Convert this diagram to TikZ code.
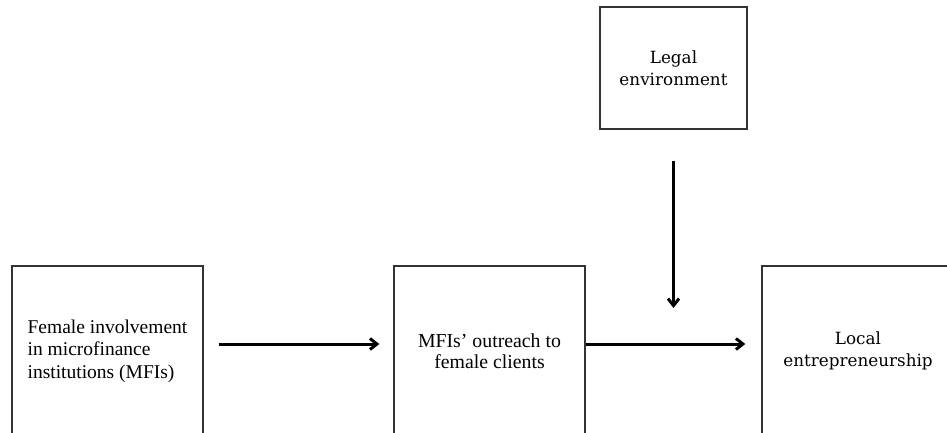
\documentclass[tikz,border=0pt]{standalone}
\usepackage{fontspec}
\setmainfont{Liberation Serif}
\newfontfamily\altserif{DejaVu Serif}
\usetikzlibrary{arrows.meta, positioning}

\begin{document}
\begin{tikzpicture}[x=1pt, y=-1pt, >={Straight Barb[length=7pt,width=11pt]},
    box/.style={draw=black!80, line width=1.3pt, fill=white, minimum width=191pt, minimum height=170pt, align=center, inner sep=0pt},
    flow/.style={->, line width=3pt}]
    \clip (0,0) rectangle (947,432);
    \fill[white] (0,0) rectangle (947,432);

    % Model boxes
    \node[box, align=left, font=\fontsize{19.5}{22.5}\selectfont] (female) at (107.5,351) {Female involvement\\in microfinance\\institutions (MFIs)};
    \node[box, font=\fontsize{19.8}{21}\selectfont] (outreach) at (489.5,351) {MFIs’ outreach to\\female clients};
    \node[box, minimum width=192pt, font=\altserif\fontsize{16.8}{21.5}\selectfont] (entre) at (858,351) {Local\\entrepreneurship};

    % Moderator
    \node[box, minimum width=147pt, minimum height=122pt, font=\altserif\fontsize{16.8}{22}\selectfont] (legal) at (673.5,68) {Legal\\environment};

    % Paths
    \coordinate (mod) at (legal.south |- entre.west);
    \draw[flow, shorten <=15pt, shorten >=14pt] (female.east |- 0,344) -- (outreach.west |- 0,344);
    \draw[flow, shorten >=16pt] (outreach.east |- 0,344) -- (entre.west |- 0,344);
    \draw[flow, shorten <=31pt, shorten >=36pt] (legal.south) -- (mod |- 0,344);
\end{tikzpicture}
\end{document}
